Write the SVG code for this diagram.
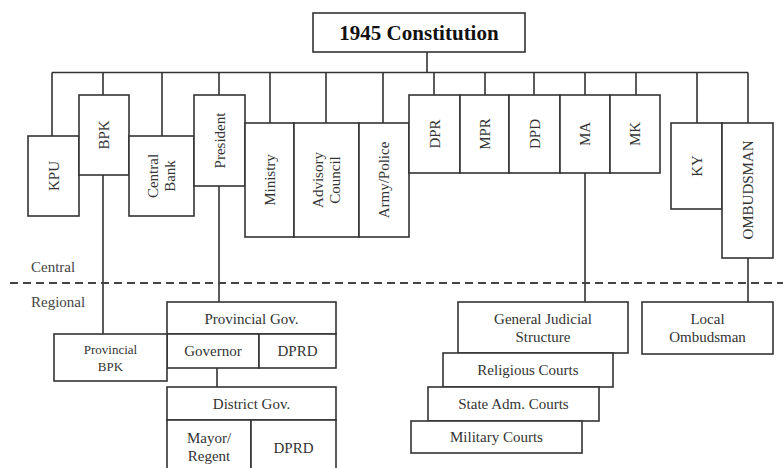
<svg xmlns="http://www.w3.org/2000/svg" width="783" height="468" viewBox="0 0 783 468">
<style>
rect{fill:#fff;stroke:#333;stroke-width:1.6}
.c{stroke:#333;stroke-width:1.6;fill:none}
text{font-family:"Liberation Serif","Times New Roman",serif;font-size:15px;fill:#333;text-anchor:middle}
.t{font-size:21px;font-weight:bold;fill:#111}
.s{font-size:13px}
.l{text-anchor:start;fill:#444}
</style>
<rect width="783" height="468" style="fill:#fff;stroke:none"/>
<g id="connectors">
<path class="c" d="M427 52V72.5M52 72.5H748M52 72.5V136M103 72.5V95M162 72.5V136M219 72.5V95M270 72.5V123M326 72.5V123M383 72.5V123M434 72.5V95M485 72.5V95M534 72.5V95M585 72.5V95M636 72.5V95M697 72.5V123M748 72.5V123"/>
<path class="c" d="M103 175V334M219 186V302M585 173V302M748 258V302M217 368V387"/>
<line x1="10" y1="283" x2="783" y2="283" stroke="#444" stroke-width="1.8" stroke-dasharray="8,5"/>
</g>
<g id="title"><rect x="313" y="13" width="212" height="39"/><text class="t" x="419" y="40">1945 Constitution</text></g>
<g id="kpu"><rect x="28" y="136" width="51" height="80"/><text transform="translate(53.5,176) rotate(-90)" y="5">KPU</text></g>
<g id="bpk"><rect x="79" y="95" width="50" height="80"/><text transform="translate(104,135) rotate(-90)" y="5">BPK</text></g>
<g id="centralbank"><rect x="129" y="136" width="65" height="80"/><text transform="translate(161.5,176) rotate(-90)" y="-4">Central</text><text transform="translate(161.5,176) rotate(-90)" y="13">Bank</text></g>
<g id="president"><rect x="194" y="95" width="51" height="91"/><text transform="translate(219.5,140.5) rotate(-90)" y="5">President</text></g>
<g id="ministry"><rect x="245" y="123" width="49" height="114"/><text transform="translate(269.5,180) rotate(-90)" y="5">Ministry</text></g>
<g id="advisory"><rect x="294" y="123" width="65" height="114"/><text transform="translate(326.5,180) rotate(-90)" y="-4">Advisory</text><text transform="translate(326.5,180) rotate(-90)" y="13">Council</text></g>
<g id="army"><rect x="359" y="123" width="50" height="114"/><text transform="translate(384,180) rotate(-90)" y="5">Army/Police</text></g>
<g id="dpr"><rect x="409" y="95" width="51" height="78"/><text transform="translate(434.5,134) rotate(-90)" y="5">DPR</text></g>
<g id="mpr"><rect x="460" y="95" width="49" height="78"/><text transform="translate(484.5,134) rotate(-90)" y="5">MPR</text></g>
<g id="dpd"><rect x="509" y="95" width="51" height="78"/><text transform="translate(534.5,134) rotate(-90)" y="5">DPD</text></g>
<g id="ma"><rect x="560" y="95" width="50" height="78"/><text transform="translate(585,134) rotate(-90)" y="5">MA</text></g>
<g id="mk"><rect x="610" y="95" width="50" height="78"/><text transform="translate(635,134) rotate(-90)" y="5">MK</text></g>
<g id="ky"><rect x="671" y="123" width="51" height="86"/><text transform="translate(696.5,166) rotate(-90)" y="5">KY</text></g>
<g id="ombudsman"><rect x="722" y="123" width="51" height="135"/><text transform="translate(747.5,190) rotate(-90)" y="5">OMBUDSMAN</text></g>
<g id="labels"><text class="l" x="31" y="272">Central</text><text class="l" x="31" y="307">Regional</text></g>
<g id="provgov"><rect x="167" y="302" width="169" height="32"/><text x="251.5" y="324">Provincial Gov.</text></g>
<g id="governor"><rect x="167" y="334" width="92" height="34"/><text x="213" y="356">Governor</text></g>
<g id="dprd1"><rect x="259" y="334" width="77" height="34"/><text x="297.5" y="356">DPRD</text></g>
<g id="provbpk"><rect x="54" y="334" width="113" height="47"/><text class="s" x="110.5" y="354">Provincial</text><text class="s" x="110.5" y="371">BPK</text></g>
<g id="distgov"><rect x="167" y="387" width="169" height="33"/><text x="251.5" y="409">District Gov.</text></g>
<g id="mayor"><rect x="167" y="420" width="84" height="60"/><text x="209" y="443">Mayor/</text><text x="209" y="461">Regent</text></g>
<g id="dprd2"><rect x="251" y="420" width="85" height="60"/><text x="293.5" y="453">DPRD</text></g>
<g id="gjs"><rect x="458" y="302" width="170" height="51"/><text x="543" y="324">General Judicial</text><text x="543" y="342">Structure</text></g>
<g id="religious"><rect x="443" y="353" width="170" height="34"/><text x="528" y="375">Religious Courts</text></g>
<g id="stateadm"><rect x="428" y="387" width="171" height="34"/><text x="513.5" y="409">State  Adm. Courts</text></g>
<g id="military"><rect x="411" y="421" width="171" height="32"/><text x="496.5" y="442">Military Courts</text></g>
<g id="localomb"><rect x="642" y="302" width="131" height="52"/><text x="707.5" y="324">Local</text><text x="707.5" y="342">Ombudsman</text></g>
</svg>
